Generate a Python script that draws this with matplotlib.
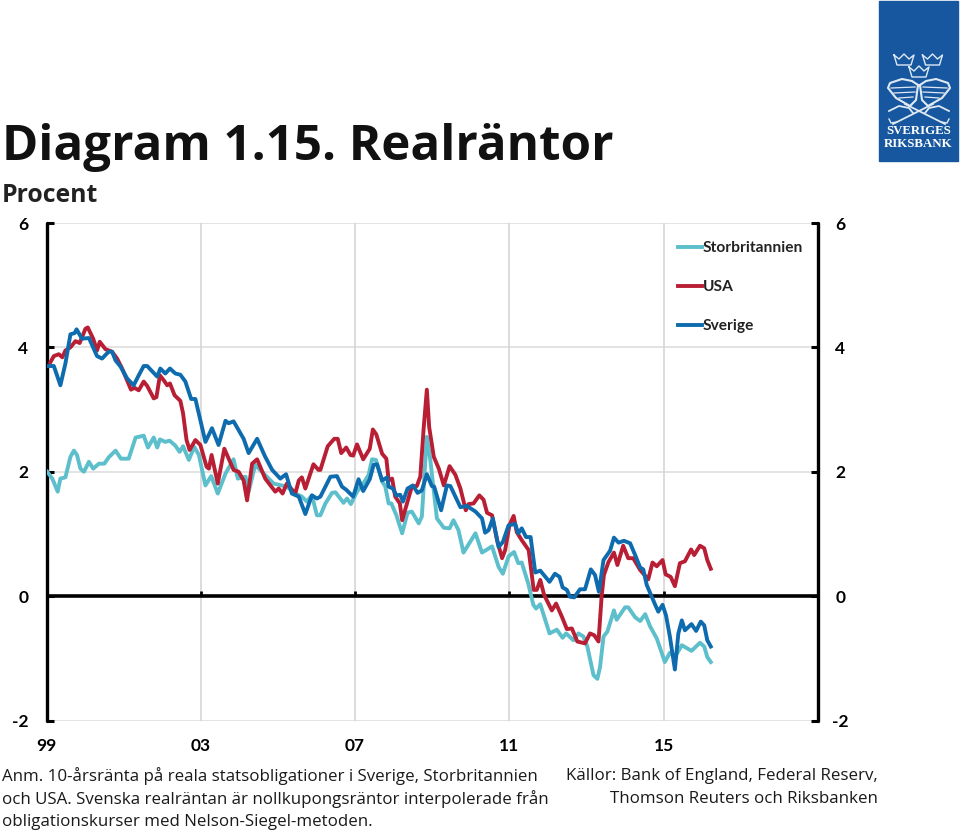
import matplotlib
matplotlib.use("Agg")
import matplotlib.pyplot as plt
from matplotlib.lines import Line2D
from matplotlib.patches import Rectangle

plt.rcParams["axes.unicode_minus"] = False
W, H = 960, 833

# Decimal years and percent values
se_years = [1999.02,1999.19,1999.36,1999.49,1999.62,1999.73,1999.78,1999.92,2000.10,2000.31,2000.44,2000.61,2000.70,2000.79,2000.92,
 2001.09,2001.26,2001.39,2001.52,2001.61,2001.87,2001.95,2002.08,2002.20,2002.34,2002.47,2002.60,2002.75,2002.86,2003.12,2003.29,2003.46,
 2003.64,2003.72,2003.85,2004.11,2004.24,2004.46,2004.67,2004.85,2005.06,2005.21,2005.36,2005.54,2005.71,2005.88,2006.01,2006.10,2006.23,
 2006.36,2006.53,2006.66,2006.77,2006.95,2007.09,2007.21,2007.38,2007.48,2007.57,2007.70,2007.83,2007.87,2007.98,2008.07,2008.17,2008.24,
 2008.36,2008.50,2008.62,2008.73,2008.86,2008.99,2009.05,2009.23,2009.38,2009.47,2009.60,2009.73,2009.90,2010.12,2010.29,2010.37,2010.46,
 2010.57,2010.72,2010.83,2010.98,2011.15,2011.23,2011.32,2011.43,2011.55,2011.67,2011.80,2012.04,2012.18,2012.30,2012.38,2012.49,2012.57,
 2012.68,2012.83,2012.96,2013.11,2013.22,2013.32,2013.44,2013.61,2013.71,2013.83,2013.97,2014.13,2014.26,2014.39,2014.47,2014.56,2014.78,
 2014.86,2014.97,2015.06,2015.16,2015.29,2015.38,2015.47,2015.55,2015.72,2015.84,2015.96,2016.05,2016.13,2016.22]
se_values = [3.70,3.70,3.39,3.74,4.21,4.23,4.29,4.14,4.15,3.86,3.82,3.93,3.93,3.79,3.69,
 3.50,3.39,3.55,3.70,3.70,3.53,3.66,3.58,3.66,3.58,3.56,3.45,3.17,3.17,2.48,2.70,2.43,
 2.82,2.78,2.81,2.53,2.30,2.53,2.24,2.03,1.89,1.96,1.65,1.60,1.32,1.62,1.57,1.60,1.76,
 1.92,1.93,1.76,1.71,1.60,1.88,1.69,1.88,2.11,2.12,1.86,1.91,1.76,1.73,1.62,1.63,1.52,
 1.73,1.78,1.66,1.70,1.96,1.77,1.76,1.38,1.78,1.77,1.60,1.43,1.45,1.36,1.25,1.02,1.06,
 1.25,0.79,0.87,1.14,1.16,1.01,1.09,0.95,0.95,0.38,0.41,0.23,0.36,0.31,0.14,0.10,-0.01,
 -0.02,0.11,0.11,0.43,0.34,0.07,0.58,0.73,0.94,0.86,0.89,0.85,0.66,0.46,0.43,0.18,-0.14,
 -0.25,-0.14,-0.31,-0.65,-1.18,-0.60,-0.39,-0.55,-0.45,-0.56,-0.41,-0.47,-0.71,-0.81]

us_years = [1999.10,1999.19,1999.32,1999.41,1999.49,1999.62,1999.75,1999.86,2000.01,2000.07,2000.21,2000.31,2000.38,2000.53,2000.70,
 2000.83,2000.96,2001.09,2001.19,2001.28,2001.39,2001.52,2001.61,2001.78,2001.85,2001.94,2002.04,2002.13,2002.20,2002.32,2002.47,2002.54,
 2002.63,2002.71,2002.86,2002.99,2003.15,2003.21,2003.28,2003.44,2003.61,2003.85,2003.98,2004.11,2004.20,2004.33,2004.46,2004.67,2004.93,
 2005.02,2005.12,2005.23,2005.45,2005.54,2005.62,2005.71,2005.92,2006.05,2006.10,2006.29,2006.46,2006.55,2006.64,2006.77,2006.88,2006.95,
 2007.05,2007.21,2007.38,2007.46,2007.55,2007.70,2007.81,2007.87,2007.96,2008.04,2008.16,2008.22,2008.36,2008.47,2008.60,2008.69,2008.78,
 2008.86,2008.92,2009.04,2009.17,2009.30,2009.45,2009.60,2009.73,2009.87,2009.94,2010.07,2010.22,2010.33,2010.42,2010.55,2010.68,2010.81,
 2010.89,2011.00,2011.11,2011.19,2011.32,2011.50,2011.63,2011.71,2011.80,2011.90,2012.10,2012.21,2012.36,2012.49,2012.62,2012.76,2012.96,
 2013.09,2013.20,2013.31,2013.39,2013.45,2013.57,2013.71,2013.80,2013.95,2014.08,2014.21,2014.39,2014.60,2014.71,2014.82,2014.97,2015.05,
 2015.18,2015.29,2015.42,2015.55,2015.71,2015.79,2015.94,2016.05,2016.13,2016.22]
us_values = [3.76,3.86,3.89,3.84,3.95,4.00,4.10,4.07,4.30,4.32,4.14,3.95,4.09,3.97,3.93,
 3.82,3.66,3.47,3.32,3.35,3.31,3.45,3.38,3.18,3.20,3.55,3.47,3.39,3.42,3.23,3.14,2.94,
 2.51,2.35,2.51,2.43,2.08,2.05,2.27,1.81,2.37,2.03,2.00,1.86,1.54,2.13,2.20,1.89,1.68,
 1.73,1.65,1.81,1.65,1.86,1.91,1.73,2.12,2.03,2.03,2.41,2.53,2.53,2.30,2.39,2.27,2.26,
 2.44,2.20,2.37,2.68,2.60,2.29,2.21,1.86,1.89,1.60,1.49,1.22,1.52,1.76,1.77,1.92,2.72,
 3.32,2.72,2.24,2.05,1.78,2.09,1.95,1.73,1.38,1.48,1.49,1.62,1.55,1.34,1.30,0.90,0.61,
 0.74,1.14,1.29,1.03,0.90,0.74,0.10,0.10,0.26,0.02,-0.23,-0.12,-0.33,-0.53,-0.52,-0.73,-0.76,
 -0.60,-0.63,-0.73,-0.01,0.34,0.55,0.70,0.50,0.81,0.61,0.61,0.42,0.27,0.54,0.48,0.58,0.35,
 0.31,0.16,0.53,0.56,0.75,0.66,0.81,0.77,0.58,0.44]

uk_years = [1999.02,1999.15,1999.29,1999.36,1999.49,1999.62,1999.71,1999.79,1999.88,1999.97,2000.10,2000.21,2000.36,2000.50,2000.61,
 2000.79,2000.93,2001.13,2001.31,2001.52,2001.63,2001.78,2001.87,2001.94,2002.08,2002.19,2002.34,2002.45,2002.54,2002.69,2002.83,2002.95,
 2003.12,2003.27,2003.44,2003.64,2003.85,2003.96,2004.16,2004.24,2004.41,2004.63,2004.89,2005.23,2005.45,2005.62,2005.75,2005.88,2006.01,
 2006.10,2006.23,2006.40,2006.49,2006.70,2006.79,2006.89,2007.05,2007.18,2007.35,2007.44,2007.54,2007.70,2007.78,2007.87,2007.94,2008.07,
 2008.22,2008.36,2008.47,2008.65,2008.73,2008.86,2008.95,2009.12,2009.30,2009.45,2009.55,2009.68,2009.81,2010.12,2010.29,2010.55,2010.72,
 2010.83,2010.98,2011.12,2011.23,2011.32,2011.49,2011.62,2011.69,2011.80,2012.04,2012.23,2012.38,2012.47,2012.66,2012.79,2012.92,2013.02,
 2013.18,2013.28,2013.35,2013.44,2013.54,2013.71,2013.78,2014.00,2014.08,2014.26,2014.39,2014.52,2014.65,2014.82,2015.03,2015.16,2015.29,
 2015.47,2015.72,2015.94,2016.05,2016.13,2016.22]
uk_values = [2.00,1.89,1.68,1.89,1.91,2.24,2.34,2.27,2.05,2.00,2.16,2.05,2.13,2.13,2.23,
 2.34,2.21,2.21,2.55,2.58,2.39,2.55,2.39,2.52,2.48,2.50,2.42,2.32,2.41,2.19,2.40,2.27,
 1.78,1.93,1.65,1.97,2.20,1.89,1.92,1.68,2.11,1.97,1.81,1.76,1.65,1.60,1.52,1.62,1.30,
 1.30,1.49,1.66,1.67,1.50,1.57,1.48,1.68,1.78,1.95,2.20,2.19,1.84,1.77,1.49,1.49,1.30,
 1.01,1.34,1.36,1.17,1.28,2.56,2.19,1.25,1.10,1.09,1.22,1.06,0.70,1.01,0.70,0.80,0.47,
 0.36,0.64,0.71,0.53,0.54,0.20,-0.14,-0.20,-0.13,-0.60,-0.54,-0.67,-0.60,-0.71,-0.60,-0.65,-0.81,
 -1.27,-1.33,-1.14,-0.65,-0.57,-0.23,-0.38,-0.18,-0.18,-0.34,-0.40,-0.29,-0.49,-0.68,-1.06,-0.91,-0.98,
 -0.79,-0.88,-0.75,-0.81,-0.98,-1.06]

y_ticks = [-2, 0, 2, 4, 6]
x_ticks = [1999, 2003, 2007, 2011, 2015]
x_labels = ["99", "03", "07", "11", "15"]
series_names = ["Storbritannien", "USA", "Sverige"]

UK_C, US_C, SE_C = "#5cbfcb", "#b91f34", "#0e6cae"
LAT = ["Lato", "DejaVu Sans"]

def fx(px): return px / W
def fy(py): return 1 - py / H

fig = plt.figure(figsize=(W / 100, H / 100), dpi=100, facecolor="white")
ax = fig.add_axes([fx(46.5), fy(720.5), (818 - 46.5) / W, (720.5 - 223) / H])
ax.set_xlim(1999, 2019)
ax.set_ylim(-2, 6)

for y in [-2, 2, 4, 6]:
    ax.axhline(y, color="#e0e0e0", lw=1.3, zorder=1)
for x in x_ticks[1:]:
    ax.axvline(x, color="#d6d6d6", lw=1.2, zorder=1)
ax.axhline(0, color="black", lw=2.6, zorder=2)

ax.plot(uk_years, uk_values, color=UK_C, lw=2.8, zorder=3, solid_joinstyle="round")
ax.plot(us_years, us_values, color=US_C, lw=2.8, zorder=4, solid_joinstyle="round")
ax.plot(se_years, se_values, color=SE_C, lw=2.8, zorder=5, solid_joinstyle="round")

for s in ["top", "bottom"]:
    ax.spines[s].set_visible(False)
for s in ["left", "right"]:
    ax.spines[s].set_linewidth(2.4)
    ax.spines[s].set_capstyle("round")

ax.set_yticks(y_ticks)
ax.set_yticklabels([str(v) for v in y_ticks])
ax.set_xticks(x_ticks)
ax.set_xticklabels(x_labels)
ax.tick_params(axis="y", which="both", direction="in", left=True, right=True,
               labelleft=True, labelright=False, length=5, width=2.2, pad=13)
ax.tick_params(axis="x", bottom=False, pad=9)
for t in ax.get_yticklabels() + ax.get_xticklabels():
    t.set_fontfamily(LAT); t.set_fontweight("bold"); t.set_fontsize(12.5)
for x in x_ticks[1:]:
    ax.plot([x, x], [0, 0.09], color="black", lw=2, zorder=2, solid_capstyle="butt")

for y in y_ticks:
    ax.annotate(str(y), xy=(1, y), xycoords=("axes fraction", "data"),
                xytext=(16, -1.2), textcoords="offset points", ha="center", va="center",
                family=LAT, weight="bold", fontsize=12.5)

# Legend
for py, name, c in zip([247, 286, 325], series_names, [UK_C, US_C, SE_C]):
    fig.add_artist(Line2D([fx(678), fx(702)], [fy(py), fy(py)], color=c, lw=2.8,
                          transform=fig.transFigure))
    fig.text(fx(703), fy(py + 1), name, ha="left", va="center", family=LAT,
             weight="bold", fontsize=11.2, color="#222222")

# Title and notes
fig.text(fx(2), fy(147), "Diagram 1.15. Realräntor", ha="left", va="center",
         family="Open Sans", fontsize=35.5, weight="bold", color="#111111")
fig.text(fx(2), fy(195), "Procent", ha="left", va="center", family="Open Sans",
         fontsize=17.8, weight="bold", color="#222222")

notes = ["Anm. 10-årsränta på reala statsobligationer i Sverige, Storbritannien",
         "och USA. Svenska realräntan är nollkupongsräntor interpolerade från",
         "obligationskurser med Nelson-Siegel-metoden."]
for py, line in zip([776, 799, 822], notes):
    fig.text(fx(2), fy(py), line, ha="left", va="center", family="Open Sans",
             fontsize=12.2, color="#1a1a1a")
for py, line in zip([776, 799], ["Källor: Bank of England, Federal Reserv,",
                                 "Thomson Reuters och Riksbanken"]):
    fig.text(fx(878), fy(py), line, ha="right", va="center", family="Open Sans",
             fontsize=12.2, color="#1a1a1a")

# Logo
LOGO = "#16579f"
fig.add_artist(Rectangle((fx(879), fy(161)), 79 / W, 160 / H, color=LOGO,
                         transform=fig.transFigure, zorder=10))
def logo_line(pts, lw=1.0):
    fig.add_artist(Line2D([fx(a) for a, b in pts], [fy(b) for a, b in pts], color="#dfe9f4",
                          lw=lw, transform=fig.transFigure, zorder=11))
def crown(cx, cy):
    logo_line([(cx - 10, cy - 5), (cx - 5, cy - 1), (cx, cy - 6), (cx + 5, cy - 1),
               (cx + 10, cy - 5), (cx + 7, cy + 5), (cx - 7, cy + 5), (cx - 10, cy - 5)], 1.0)
crown(904, 60); crown(932.5, 60); crown(919, 72)
# Shields with stripes, crossed anchors below
for sign in (-1, 1):
    c = 919 + sign
    logo_line([(c + sign*0, 85), (c + sign*6, 81), (c + sign*16, 79), (c + sign*28, 83), (c + sign*30, 88),
               (c + sign*22, 98), (c + sign*8, 106), (c + sign*2, 100), (c + sign*0, 85)], 1.5)
    for yy, a, b in [(87, 3, 27), (92, 3, 24), (97, 5, 19)]:
        logo_line([(c + sign*a, yy), (c + sign*b, yy + 1)], 0.9)
    logo_line([(919 - sign*26, 124), (919 + sign*14, 104)], 1.3)
    logo_line([(919 - sign*30, 111), (919 - sign*20, 106), (919 - sign*10, 108), (919 - sign*6, 113)], 1.3)
    logo_line([(919 - sign*30, 119), (919 - sign*28, 123), (919 - sign*22, 122)], 1.0)
fig.text(fx(918.5), fy(131.5), "SVERIGES", ha="center", va="center", color="white",
         family="Liberation Serif", fontsize=9.3, weight="bold", zorder=12)
fig.text(fx(918.5), fy(144), "RIKSBANK", ha="center", va="center", color="white",
         family="Liberation Serif", fontsize=9.3, weight="bold", zorder=12)

fig.savefig("out.png", dpi=100, facecolor="white")
